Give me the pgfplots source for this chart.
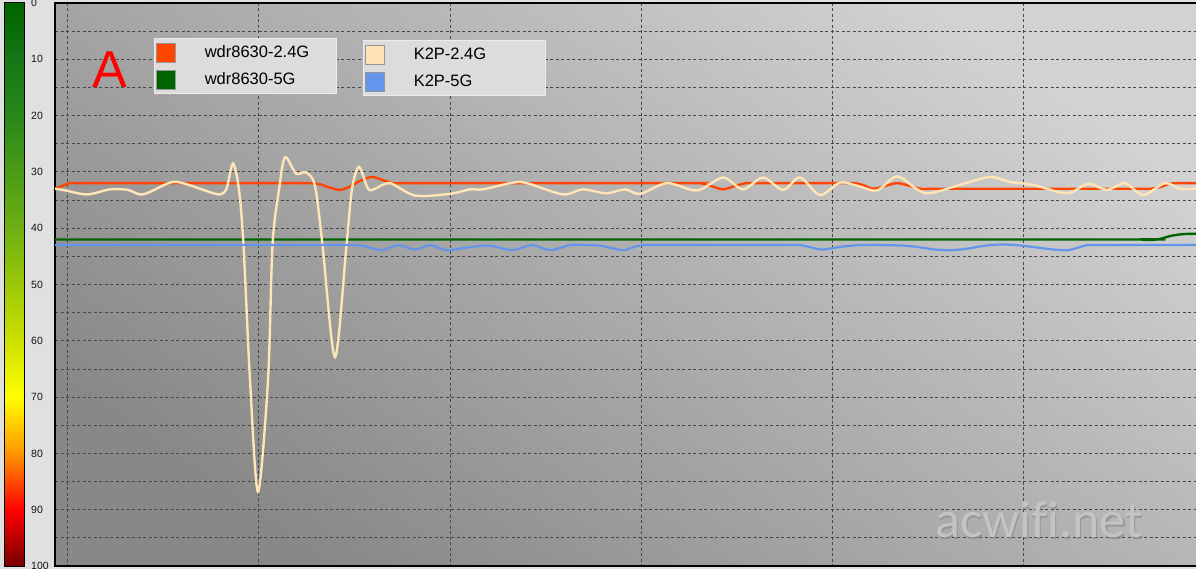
\documentclass[border=0pt]{standalone}
\usepackage{pgfplots}
\pgfplotsset{compat=1.18}
\usepackage{fontspec}
\setmainfont{Liberation Sans}
\newfontfamily\wmfont[Ligatures=CommonOff]{Carlito}

\definecolor{wdrred}{RGB}{255,69,0}
\definecolor{wdrgreen}{RGB}{0,100,0}
\definecolor{ktwo}{RGB}{255,228,181}
\definecolor{kfive}{RGB}{100,149,237}
\definecolor{outerbg}{RGB}{224,224,224}
\definecolor{gridgray}{RGB}{72,72,72}
\definecolor{bglight}{RGB}{210,210,210}
\definecolor{bgdark}{RGB}{136,136,136}
\definecolor{legfill}{RGB}{220,220,220}
\definecolor{legedge}{RGB}{236,236,236}
\definecolor{sqedge}{RGB}{150,150,150}

% x is in screen pixels, y is the signal scale (0 on top)
\pgfplotsset{
  frame/.style={
    scale only axis, at={(55pt,3pt)}, anchor=south west,
    width=1147pt, height=563pt,
    xmin=55, xmax=1202, ymin=0, ymax=100, y dir=reverse,
    no markers,
  },
  squares/.style={
    legend cell align=left,
    legend image code/.code={
      \draw[##1, solid, line width=1pt, draw=sqedge, fill] (1pt,-10pt) rectangle (20pt,9pt);
      \path (0pt,-12.5pt) (48pt,12.5pt);
    },
    legend style={fill=legfill, draw=legedge, line width=0.8pt,
      inner sep=0pt, row sep=0pt, anchor=north west,
      font=\fontsize{16.5}{18}\selectfont, nodes={inner sep=0pt, text=black}},
  },
}

\begin{document}
\begin{tikzpicture}
\fill[outerbg] (0,0) rectangle (1196pt,569pt);

% signal colour scale on the left
\begin{axis}[
  at={(5pt,3pt)}, anchor=south west,
  scale only axis, width=20pt, height=563pt,
  xmin=0, xmax=1, ymin=0, ymax=100, y dir=reverse,
  xtick=\empty, ytick={0,10,...,100}, yticklabel pos=right,
  major tick length=0pt,
  axis line style={black, line width=1pt},
  axis on top,
  colormap={rssi}{rgb255=(0,100,0) rgb255=(20,118,22) rgb255=(40,135,25) rgb255=(75,155,22) rgb255=(110,175,20) rgb255=(155,200,8) rgb255=(205,225,0) rgb255=(255,255,0) rgb255=(255,150,0) rgb255=(255,0,0) rgb255=(120,0,0)},
  point meta min=0, point meta max=100,
  yticklabel style={font=\fontsize{10.5}{12}\selectfont, text={rgb,255:red,20;green,20;blue,20}, inner sep=0pt, xshift=6pt, anchor=west},
  /pgf/number format/assume math mode=true,
]
\addplot[surf, shader=interp, point meta=y, mesh/cols=2] coordinates {
  (0,0) (1,0) (0,10) (1,10) (0,20) (1,20) (0,30) (1,30) (0,40) (1,40) (0,50) (1,50)
  (0,60) (1,60) (0,70) (1,70) (0,80) (1,80) (0,90) (1,90) (0,100) (1,100)
};
\end{axis}

\begin{axis}[
  frame, squares,
  xtick={67.7,258.3,450.5,641,832.5,1023.3},
  ytick={0,5,...,100},
  xticklabels={}, yticklabels={},
  major tick length=0pt,
  grid=major,
  grid style={gridgray, line width=0.8pt, dash pattern=on 3pt off 2.5pt},
  axis line style={black, line width=1.3pt},
  axis background/.style={shade, top color=bglight, bottom color=bgdark, shading angle=-35},
  legend style={at={(0.0863,0.9378)}},
]

\addplot[color=wdrred, line width=2.4pt, smooth] coordinates {
  (55,33.0) (62,32.5) (70,32) (80,32) (90,32) (200,32) (300,32) (310,32) (320,32.2)
  (330,32.8) (340,33.2) (350,32.6) (361,31.5) (372,30.9) (382,31.4) (392,32) (402,32)
  (412,32) (550,32) (690,32) (700,32) (711,32.5) (723,33.1) (735,32.5) (746,32) (756,32)
  (766,32) (845,32) (855,32) (864,32.4) (873,33) (885,32.5) (897,32) (908,32.4) (920,33)
  (930,33) (940,33) (1050,33) (1140,33) (1150,33) (1160,32.7) (1170,32.1) (1180,32)
  (1190,32) (1202,32)
};
\addlegendentry{\makebox[132pt][l]{wdr8630-2.4G}}

\addplot[color=wdrgreen, line width=2.4pt, smooth] coordinates {
  (55,42) (600,42) (1130,42) (1140,42) (1150,42.1) (1160,41.9) (1170,41.4) (1180,41.1)
  (1190,41) (1202,41)
};
\addlegendentry{\makebox[132pt][l]{wdr8630-5G}}
\end{axis}

\begin{axis}[
  frame, squares, hide axis,
  legend style={at={(0.2685,0.9343)}},
]
\addplot[color=ktwo, line width=2.4pt, smooth] coordinates {
  (55,33.0) (63,33.2) (87,34.0) (110,33.1) (128,33.2) (143,34.0) (170,31.9) (183,32.0)
  (210,33.6) (220,34.0) (226.5,33.0) (233,28.5) (239,33.2) (243.5,43) (250,67) (258,86.8)
  (268,67) (272.5,43) (279,33.2) (285,27.4) (296,30.3) (306,30.1) (315,32.5) (322.5,43)
  (335,62.9) (346.5,43) (352,33) (359,29.1) (368,33) (375,33) (390,32) (415,34.2)
  (450,33.9) (470,33.1) (483,33.1) (513,31.9) (527,32) (563,34) (583,33.1) (606,33.8)
  (625,33.1) (640,33.9) (667,32) (697,33.3) (723,31) (743,33.1) (763,31) (783,33.2)
  (800,31) (820,34.1) (840,31.9) (860,32.6) (877,33.3) (897,30.8) (917,33.1) (930,33.8)
  (960,32.3) (990,30.9) (1010,31.8) (1033,32.3) (1067,33.8) (1088,32.1) (1107,33.2)
  (1125,32) (1143,34.1) (1165,32) (1180,33) (1196,33) (1202,33)
};
\addlegendentry{\makebox[132pt][l]{K2P-2.4G}}

\addplot[color=kfive, line width=2.2pt, smooth] coordinates {
  (55,43) (200,43) (340,43) (351,43) (362,43.1) (373,43.6) (383,43.9) (398,43) (415,43.8)
  (430,43) (447,43.9) (468,43.4) (490,43.1) (512,43.9) (532,43) (550,43.9) (570,43)
  (585,43) (600,43.1) (611,43.5) (623,43.9) (633,43.4) (642,43) (652,43) (662,43) (730,43)
  (790,43) (800,43) (811,43.4) (822,43.8) (841,43.3) (860,43) (880,43) (905,43.1)
  (920,43.4) (935,43.8) (950,43.9) (965,43.7) (978,43.3) (990,43) (1005,42.9) (1022,43.1)
  (1040,43.5) (1054,43.8) (1068,43.9) (1077,43.5) (1087,43) (1097,43) (1107,43) (1150,43)
  (1202,43)
};
\addlegendentry{\makebox[132pt][l]{K2P-5G}}

\node[text={rgb,255:red,255;green,0;blue,0}, font=\fontsize{52}{52}\selectfont, inner sep=0pt]
  at (axis cs:110,11.8) {A};
\node[anchor=base, font=\wmfont\fontsize{52}{52}\selectfont, text={rgb,255:red,140;green,140;blue,140}, opacity=0.7]
  at (axis cs:1040.5,95.3) {acwifi.net};
\node[anchor=base, font=\wmfont\fontsize{52}{52}\selectfont, text={rgb,255:red,196;green,196;blue,196}]
  at (axis cs:1039,95.0) {acwifi.net};
\end{axis}

\pgfresetboundingbox
\useasboundingbox (0,0) rectangle (1196pt,569pt);
\end{tikzpicture}
\end{document}
